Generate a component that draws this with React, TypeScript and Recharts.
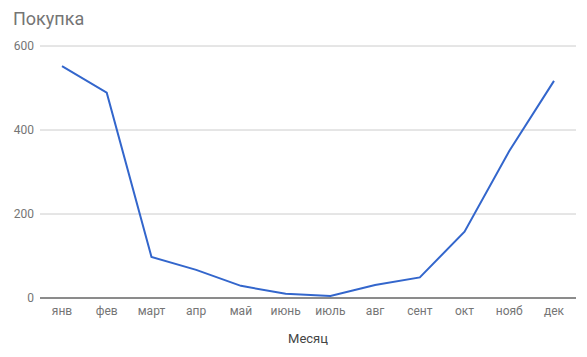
import { CartesianGrid, Line, LineChart, ReferenceLine, XAxis, YAxis } from 'recharts'

const months = ['янв', 'фев', 'март', 'апр', 'май', 'июнь', 'июль', 'авг', 'сент', 'окт', 'нояб', 'дек']
const purchases = [552, 489, 98, 67, 29, 10, 5, 31, 49, 158, 350, 517]
const yTicks = [0, 200, 400, 600]

const data = months.map((month, i) => ({ month, value: purchases[i] }))

const tickStyle = { fontSize: 12, fill: '#757575', fontFamily: 'Roboto' }

export default function App() {
  return (
    <div style={{ position: 'absolute', left: 0, top: 0, width: 587, height: 357, background: '#fff', fontFamily: 'Roboto' }}>
      <div style={{ position: 'absolute', left: 13, top: 8, fontSize: 18, color: '#757575' }}>Покупка</div>
      <LineChart width={587} height={357} data={data} margin={{ top: 46, right: 11, bottom: 29, left: 0 }}>
        <CartesianGrid vertical={false} stroke="#cccccc" />
        <XAxis
          dataKey="month"
          height={30}
          padding={{ left: 22, right: 22 }}
          tickLine={false}
          axisLine={false}
          tickSize={0}
          tickMargin={8}
          tick={tickStyle}
          interval={0}
        />
        <YAxis
          domain={[0, 600]}
          ticks={yTicks}
          width={40}
          tickLine={false}
          axisLine={false}
          tickSize={0}
          tickMargin={6}
          tick={tickStyle}
        />
        <ReferenceLine y={0} stroke="#333333" strokeWidth={1} />
        <Line type="linear" dataKey="value" stroke="#3366cc" strokeWidth={2} dot={false} isAnimationActive={false} />
      </LineChart>
      <div style={{ position: 'absolute', left: 0, width: 616, top: 331, textAlign: 'center', fontSize: 13, color: '#444' }}>Месяц</div>
    </div>
  )
}
